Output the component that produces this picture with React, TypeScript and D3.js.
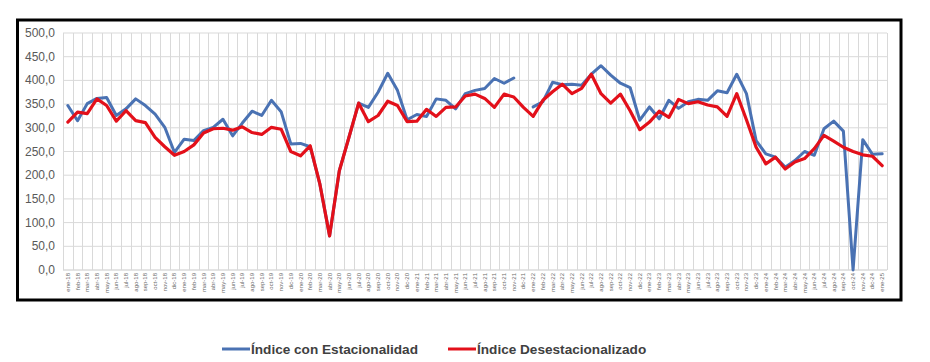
import React, { useRef, useEffect } from 'react';
import * as d3 from 'd3';

const monthNames = ['ene', 'feb', 'mar', 'abr', 'may', 'jun', 'jul', 'ago', 'sep', 'oct', 'nov', 'dic'];
const years = ['18', '19', '20', '21', '22', '23', '24', '25'];
const months: string[] = [];
years.forEach(y => monthNames.forEach(m => months.push(`${m}-${y}`)));
const categories = months.slice(0, 85); // ene-18 .. ene-25

// Índice con Estacionalidad (dic-21 has no value)
const seasonal: (number | null)[] = [
  347, 315, 351, 362, 364, 326, 340, 361, 347, 329, 301, 248,
  276, 273, 294, 301, 318, 283, 310, 335, 326, 358, 334, 266,
  267, 260, 181, 72, 209, 280, 352, 343, 375, 415, 379, 317,
  328, 324, 361, 358, 340, 372, 379, 383, 404, 394, 405, null,
  344, 355, 396, 391, 392, 390, 413, 431, 411, 394, 385, 316,
  344, 319, 358, 341, 355, 360, 358, 378, 374, 413, 372, 273,
  245, 238, 217, 231, 250, 242, 298, 314, 293, 0, 275, 244,
  245,
];

// Índice Desestacionalizado
const adjusted: number[] = [
  312, 333, 330, 361, 347, 314, 336, 315, 311, 280, 260, 242,
  250, 264, 289, 298, 299, 295, 302, 290, 286, 301, 297, 250,
  241, 262, 181, 72, 209, 280, 352, 313, 326, 356, 347, 313,
  314, 339, 324, 343, 344, 367, 371, 362, 343, 371, 365, 343,
  324, 358, 376, 392, 372, 383, 413, 372, 352, 371, 336, 296,
  312, 335, 322, 360, 351, 355, 348, 344, 324, 372, 317, 259,
  224, 238, 213, 228, 235, 256, 284, 272, 259, 250, 243, 240,
  220,
];

const yTicks = [0, 50, 100, 150, 200, 250, 300, 350, 400, 450, 500];
const seriesNames = ['Índice con Estacionalidad', 'Índice Desestacionalizado'];
const colors = ['#4a72b3', '#e3101a'];

export default function App() {
  const svgRef = useRef<SVGSVGElement>(null);

  useEffect(() => {
    const svg = d3.select(svgRef.current);
    svg.selectAll('*').remove();

    const x = d3.scaleBand<string>().domain(categories).range([63, 887]).padding(0);
    const y = d3.scaleLinear().domain([0, 500]).range([270, 33]);

    svg.append('rect')
      .attr('width', 930).attr('height', 362).attr('fill', '#fff');

    // horizontal gridlines
    svg.append('g')
      .selectAll('line')
      .data(yTicks)
      .join('line')
      .attr('x1', 63).attr('x2', 887)
      .attr('y1', d => y(d)).attr('y2', d => y(d))
      .attr('stroke', d => (d === 0 ? '#c8c8c8' : '#d9d9d9'))
      .attr('stroke-width', 1);

    // vertical gridlines at category boundaries
    const bounds = categories.map(c => x(c)!).concat([887]);
    svg.append('g')
      .selectAll('line')
      .data(bounds)
      .join('line')
      .attr('x1', d => Math.round(d) + 0.5).attr('x2', d => Math.round(d) + 0.5)
      .attr('y1', y(500)).attr('y2', y(0))
      .attr('stroke', '#d9d9d9')
      .attr('stroke-width', 1);

    // y labels
    svg.append('g')
      .selectAll('text')
      .data(yTicks)
      .join('text')
      .attr('x', 55)
      .attr('y', d => y(d) + 4)
      .attr('text-anchor', 'end')
      .attr('font-family', 'Liberation Sans, Arial, sans-serif')
      .attr('font-size', 12)
      .attr('fill', '#595959')
      .text(d => d3.format('.1f')(d).replace('.', ','));

    // x labels
    svg.append('g')
      .selectAll('text')
      .data(categories)
      .join('text')
      .attr('transform', d => `translate(${x(d)! + x.bandwidth() / 2 + 2},273) rotate(-90)`)
      .attr('text-anchor', 'end')
      .attr('font-family', 'Liberation Sans, Arial, sans-serif')
      .attr('font-size', 6)
      .attr('fill', '#6a6a6a')
      .text(d => d);

    const line = d3.line<number | null>()
      .defined(d => d != null)
      .x((d, i) => x(categories[i])! + x.bandwidth() / 2)
      .y(d => y(d as number));

    [seasonal, adjusted].forEach((s, k) => {
      svg.append('path')
        .datum(s)
        .attr('d', line)
        .attr('fill', 'none')
        .attr('stroke', colors[k])
        .attr('stroke-width', k === 0 ? 3 : 3.2)
        .attr('stroke-linejoin', 'round')
        .attr('stroke-linecap', 'round');
    });

    // frame
    svg.append('rect')
      .attr('x', 17.5).attr('y', 20).attr('width', 883.5).attr('height', 280)
      .attr('fill', 'none')
      .attr('stroke', '#000')
      .attr('stroke-width', 3);

    // legend
    const legendX = [222, 448];
    const lg = svg.append('g');
    seriesNames.forEach((name, k) => {
      lg.append('line')
        .attr('x1', legendX[k]).attr('x2', legendX[k] + 28)
        .attr('y1', 349).attr('y2', 349)
        .attr('stroke', colors[k])
        .attr('stroke-width', 3);
      lg.append('text')
        .attr('x', legendX[k] + 29)
        .attr('y', 354)
        .attr('font-family', 'Liberation Sans, Arial, sans-serif')
        .attr('font-weight', 'bold')
        .attr('font-size', 13.6)
        .attr('fill', '#404040')
        .text(name);
    });
  }, []);

  return (
    <div style={{ position: 'absolute', left: 0, top: 0 }}>
      <svg ref={svgRef} width={930} height={362} style={{ display: 'block' }} />
    </div>
  );
}
